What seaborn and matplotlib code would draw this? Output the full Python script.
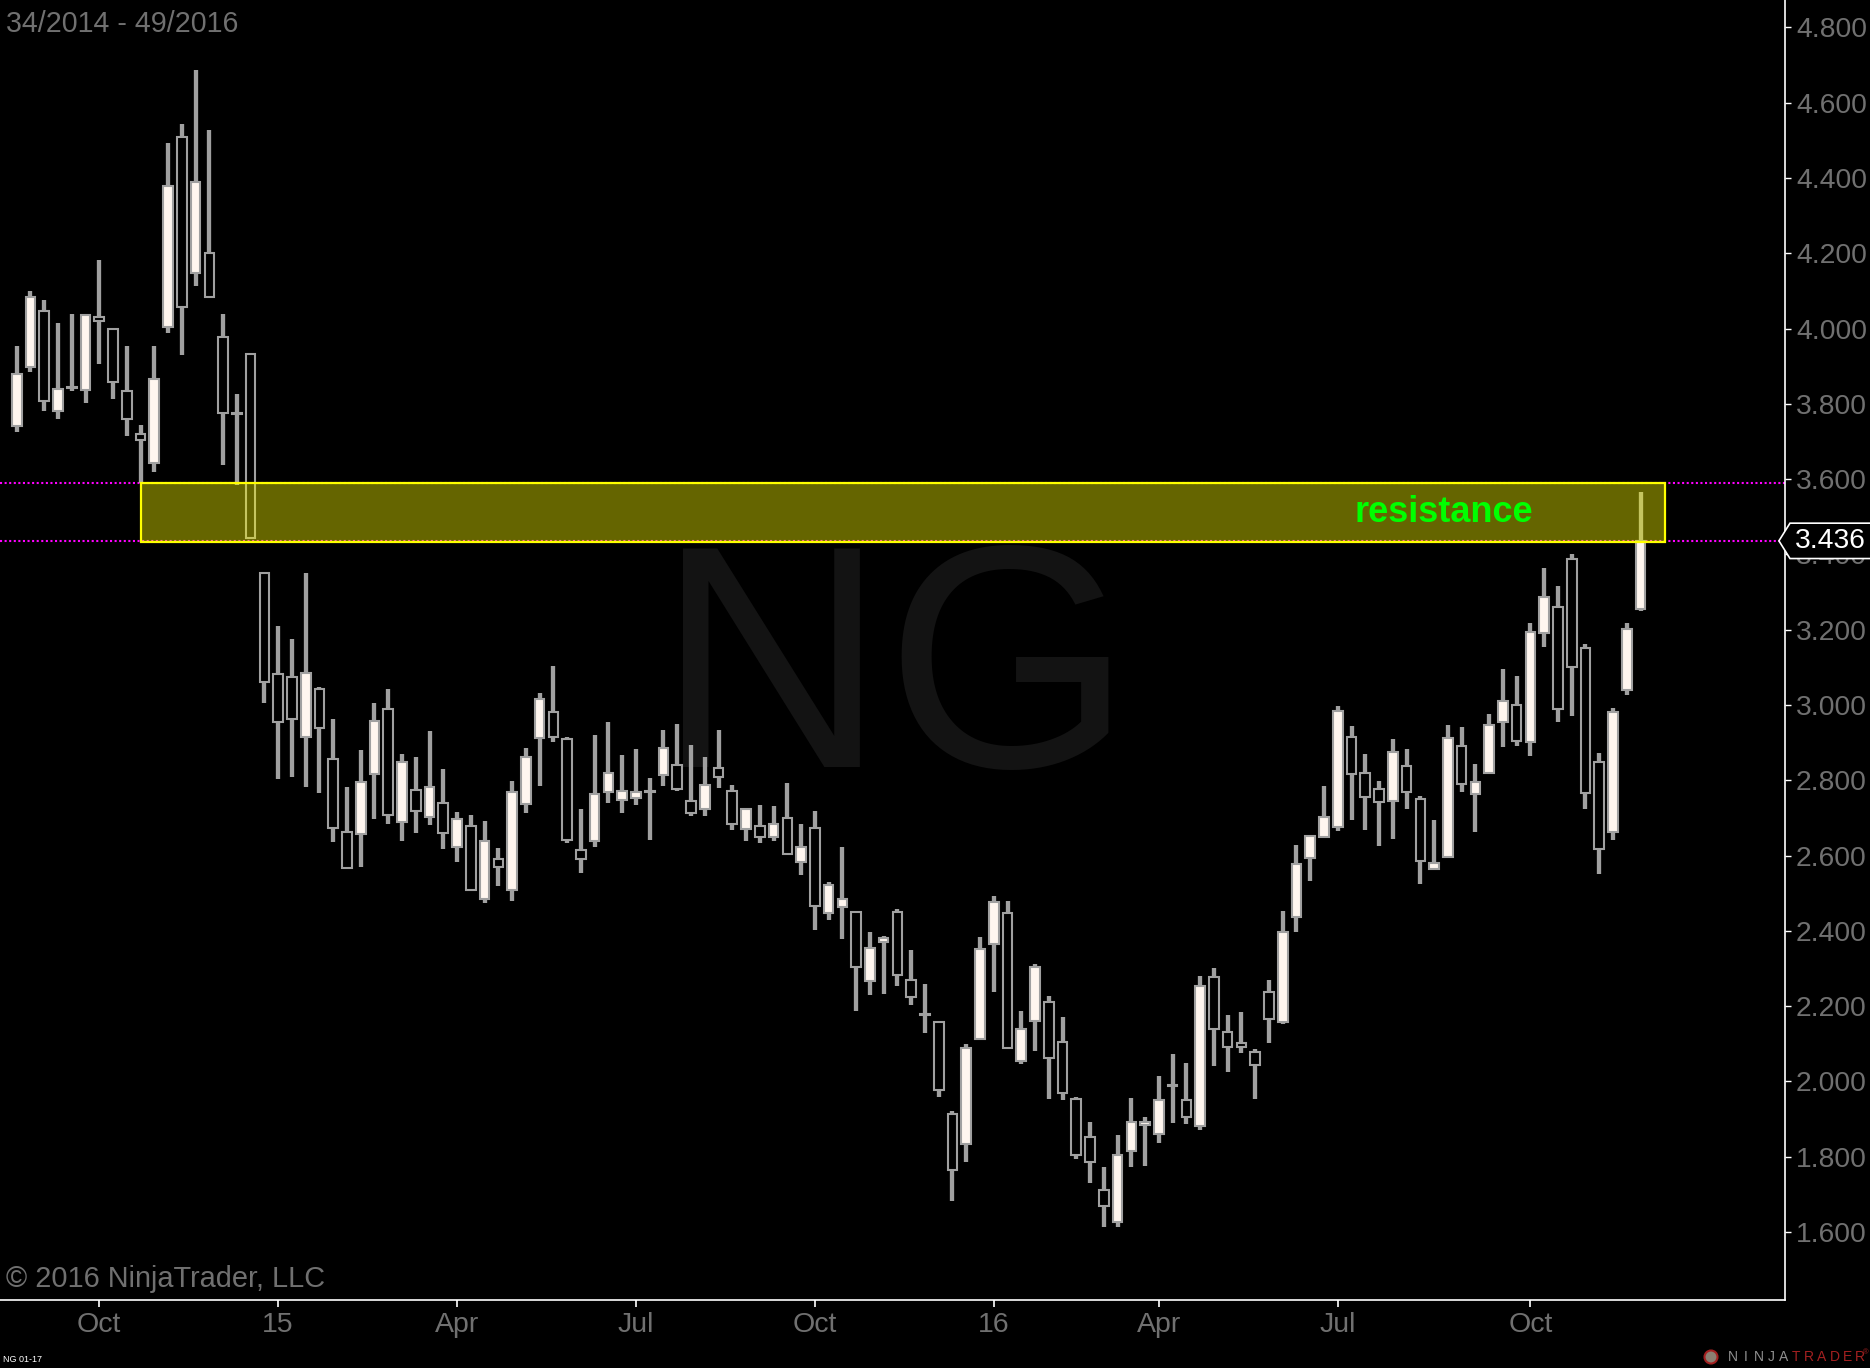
import numpy as np
import pandas as pd
import matplotlib
matplotlib.use("Agg")
import matplotlib.pyplot as plt
import seaborn as sns
from matplotlib.patches import Rectangle, Polygon, Circle

# Weekly NG 01-17 candles, 34/2014 - 49/2016
opens = [3.742, 3.897, 4.047, 3.781, 3.841, 3.838, 4.031, 4.000, 3.835, 3.720,
         3.642, 4.005, 4.510, 4.147, 4.200, 3.977, 3.775, 3.932, 3.350, 3.083,
         3.075, 2.914, 3.043, 2.857, 2.663, 2.657, 2.816, 2.988, 2.689, 2.775,
         2.702, 2.739, 2.623, 2.679, 2.484, 2.591, 2.508, 2.737, 2.913, 2.982,
         2.909, 2.615, 2.638, 2.768, 2.747, 2.753, 2.768, 2.813, 2.841, 2.746,
         2.723, 2.833, 2.772, 2.670, 2.679, 2.648, 2.700, 2.584, 2.674, 2.448,
         2.462, 2.449, 2.266, 2.370, 2.449, 2.270, 2.179, 2.158, 1.912, 1.833,
         2.112, 2.365, 2.446, 2.053, 2.160, 2.212, 2.105, 1.952, 1.853, 1.710,
         1.625, 1.816, 1.884, 1.860, 1.988, 1.950, 1.881, 2.276, 2.132, 2.102,
         2.079, 2.238, 2.157, 2.436, 2.593, 2.650, 2.675, 2.916, 2.818, 2.776,
         2.744, 2.837, 2.749, 2.564, 2.595, 2.890, 2.763, 2.818, 2.955, 3.001,
         2.902, 3.192, 3.259, 3.387, 3.150, 2.848, 2.663, 3.040, 3.254]

highs = [3.954, 4.100, 4.076, 4.015, 4.039, 4.040, 4.182, 4.002, 3.954, 3.744,
         3.954, 4.493, 4.543, 4.687, 4.527, 4.039, 3.826, 3.935, 3.352, 3.210,
         3.175, 3.350, 3.048, 2.964, 2.781, 2.880, 3.004, 3.042, 2.869, 2.861,
         2.932, 2.831, 2.716, 2.707, 2.692, 2.619, 2.797, 2.885, 3.033, 3.103,
         2.914, 2.723, 2.920, 2.954, 2.867, 2.883, 2.806, 2.933, 2.949, 2.893,
         2.862, 2.933, 2.786, 2.725, 2.734, 2.731, 2.792, 2.685, 2.717, 2.529,
         2.623, 2.451, 2.397, 2.387, 2.458, 2.349, 2.258, 2.160, 1.921, 2.098,
         2.383, 2.492, 2.479, 2.187, 2.313, 2.227, 2.172, 1.959, 1.892, 1.772,
         1.857, 1.956, 1.904, 2.014, 2.073, 2.049, 2.280, 2.300, 2.176, 2.184,
         2.085, 2.269, 2.453, 2.628, 2.655, 2.784, 2.996, 2.943, 2.869, 2.797,
         2.909, 2.882, 2.759, 2.694, 2.947, 2.941, 2.842, 2.975, 3.096, 3.077,
         3.217, 3.364, 3.316, 3.401, 3.162, 2.872, 2.992, 3.219, 3.566]

lows = [3.726, 3.885, 3.782, 3.760, 3.835, 3.803, 3.907, 3.814, 3.715, 3.589,
        3.620, 3.989, 3.931, 4.113, 4.080, 3.637, 3.584, 3.440, 3.006, 2.804,
        2.809, 2.783, 2.765, 2.637, 2.566, 2.570, 2.696, 2.685, 2.639, 2.661,
        2.680, 2.616, 2.584, 2.505, 2.475, 2.520, 2.480, 2.712, 2.785, 2.902,
        2.632, 2.554, 2.623, 2.739, 2.714, 2.735, 2.641, 2.785, 2.772, 2.706,
        2.706, 2.780, 2.669, 2.639, 2.632, 2.639, 2.601, 2.548, 2.402, 2.429,
        2.378, 2.188, 2.229, 2.232, 2.254, 2.203, 2.129, 1.959, 1.683, 1.786,
        2.110, 2.238, 2.085, 2.045, 2.081, 1.954, 1.950, 1.793, 1.731, 1.612,
        1.612, 1.772, 1.776, 1.837, 1.890, 1.886, 1.872, 2.042, 2.026, 2.074,
        1.952, 2.101, 2.152, 2.396, 2.533, 2.648, 2.666, 2.695, 2.669, 2.624,
        2.645, 2.723, 2.523, 2.561, 2.593, 2.770, 2.662, 2.816, 2.889, 2.892,
        2.864, 3.155, 2.956, 2.971, 2.724, 2.550, 2.641, 3.026, 3.250]

closes = [3.878, 4.085, 3.808, 3.840, 3.843, 4.035, 4.020, 3.857, 3.760, 3.704,
          3.867, 4.380, 4.058, 4.390, 4.083, 3.777, 3.773, 3.443, 3.060, 2.955,
          2.962, 3.086, 2.938, 2.672, 2.568, 2.796, 2.958, 2.707, 2.849, 2.718,
          2.782, 2.659, 2.698, 2.508, 2.638, 2.569, 2.770, 2.862, 3.017, 2.914,
          2.641, 2.590, 2.764, 2.820, 2.772, 2.768, 2.770, 2.886, 2.776, 2.712,
          2.786, 2.808, 2.685, 2.724, 2.648, 2.685, 2.603, 2.623, 2.467, 2.522,
          2.484, 2.303, 2.355, 2.382, 2.283, 2.223, 2.177, 1.977, 1.764, 2.089,
          2.351, 2.477, 2.089, 2.140, 2.305, 2.061, 1.968, 1.803, 1.785, 1.669,
          1.804, 1.893, 1.891, 1.950, 1.990, 1.906, 2.253, 2.138, 2.090, 2.092,
          2.043, 2.166, 2.398, 2.577, 2.652, 2.701, 2.985, 2.816, 2.756, 2.743,
          2.875, 2.770, 2.585, 2.581, 2.912, 2.789, 2.795, 2.947, 3.010, 2.903,
          3.193, 3.286, 2.990, 3.102, 2.765, 2.616, 2.980, 3.203, 3.436]

# x axis month ticks (bar index) and labels
tick_pos = [6, 19, 32, 45, 58, 71, 83, 96, 110]
tick_labels = ["Oct", "15", "Apr", "Jul", "Oct", "16", "Apr", "Jul", "Oct"]
price_ticks = [1.6, 1.8, 2.0, 2.2, 2.4, 2.6, 2.8, 3.0, 3.2, 3.4,
               3.6, 3.8, 4.0, 4.2, 4.4, 4.6, 4.8]

# resistance zone drawn on the chart
zone_start = 9
zone_end = 119.75
zone_low = 3.434
zone_high = 3.59
last_price = 3.436

GREY_TXT = "#707070"
WICK = "#A0A0A0"
UP_FILL = "#FFF6EF"

df = pd.DataFrame({"open": opens, "high": highs, "low": lows, "close": closes})
df["week"] = np.arange(len(df))
df["up"] = df["close"] >= df["open"]

sns.set_theme(style="dark", rc={"axes.facecolor": "black", "figure.facecolor": "black"})
plt.rcParams["font.family"] = ["Liberation Sans", "DejaVu Sans"]

fig = plt.figure(figsize=(18.7, 13.68), dpi=100)
ax = fig.add_axes([0, 68 / 1368, 1785 / 1870, 1300 / 1368])
ax.set_facecolor("black")
ax.grid(False)

# watermark
ax.text(0.501, 0.41, "NG", transform=ax.transAxes, fontsize=228, color="#131313",
        ha="center", va="baseline", zorder=0.5)

# candles: wicks then bodies
ax.vlines(df["week"], df["low"], df["high"], color=WICK, linewidth=3.1, zorder=2)
body_low = np.minimum(df["open"], df["close"])
body_h = np.maximum((df["close"] - df["open"]).abs(), 0.003)
ax.bar(df["week"], body_h, bottom=body_low, width=0.7,
       color=np.where(df["up"], UP_FILL, "black"), edgecolor=WICK,
       linewidth=1.5, zorder=3)

# dotted price lines
ax.axhline(zone_high, color="#FF00FF", linestyle=(0, (1, 1.2)), linewidth=1.5, zorder=1.8)
ax.axhline(last_price, color="#FF00FF", linestyle=(0, (1, 1.2)), linewidth=1.5, zorder=1.8)

# resistance box
ax.add_patch(Rectangle((zone_start, zone_low), zone_end - zone_start, zone_high - zone_low,
                       facecolor=(1, 1, 0, 0.4), edgecolor=(1, 1, 0, 1), linewidth=1.6, zorder=4))
ax.text(103.7, (zone_low + zone_high) / 2, "resistance", color="#00FF00", fontsize=26,
        fontweight="bold", ha="center", va="center", zorder=5)

ax.set_xlim(-1.214, 128.5)
ax.set_ylim(1.419, 4.873)

ax.yaxis.tick_right()
ax.set_yticks(price_ticks)
ax.set_yticklabels([f"{p:.3f}" for p in price_ticks])
ax.set_xticks(tick_pos)
ax.set_xticklabels(tick_labels)
ax.tick_params(axis="y", which="both", right=True, left=False, length=4, width=1,
               color="white", labelcolor=GREY_TXT, labelsize=20.3, pad=4)
ax.tick_params(axis="x", which="both", bottom=True, length=5, width=1.2,
               color="white", labelcolor=GREY_TXT, labelsize=20.5, pad=4)

for side in ["top", "left"]:
    ax.spines[side].set_visible(False)
for side in ["right", "bottom"]:
    ax.spines[side].set_visible(True)
    ax.spines[side].set_color("white")
    ax.spines[side].set_linewidth(1.2)

# last price tag on the axis
ytr = ax.get_yaxis_transform()
hh = 0.047
tag = Polygon([(0.9966, last_price), (1.0028, last_price + hh), (1.05, last_price + hh),
               (1.05, last_price - hh), (1.0028, last_price - hh)],
              closed=True, transform=ytr, facecolor="black", edgecolor="white",
              linewidth=1.2, clip_on=False, zorder=10)
ax.add_patch(tag)
ax.text(1.0055, last_price, f"{last_price:.3f}", transform=ytr, color="white",
        fontsize=20.3, ha="left", va="center", clip_on=False, zorder=11)

# texts around the chart
fig.text(6 / 1870, 1 - 24 / 1368, "34/2014 - 49/2016", color=GREY_TXT, fontsize=20.6, va="center")
fig.text(6 / 1870, 1 - 1279 / 1368, "\u00a9 2016 NinjaTrader, LLC", color=GREY_TXT,
         fontsize=20.8, va="center", zorder=6)
fig.text(3 / 1870, 1 - 1359 / 1368, "NG 01-17", color="white", fontsize=6.5, va="center")

# NinjaTrader logo
fig.add_artist(Circle((1711, 11), 6.5, transform=None, facecolor="#8A7F72",
                      edgecolor="#A32020", linewidth=1.5))
logo = "NINJATRADER"
for k, ch in enumerate(logo):
    fig.text((1733 + k * 12.7) / 1870, 11 / 1368, ch, fontsize=10, ha="center", va="center",
             color="#8F8F8F" if k < 5 else "#A32020")
fig.text(1866 / 1870, 15 / 1368, "\u00ae", fontsize=5.5, ha="center", va="center", color="#A32020")

fig.savefig("out.png", dpi=100, facecolor="black")
